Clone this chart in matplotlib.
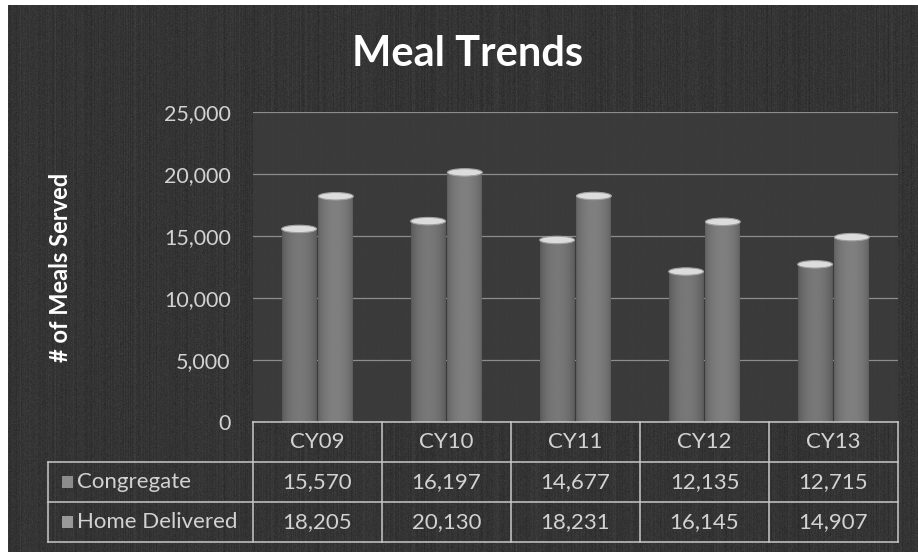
import numpy as np
import matplotlib.pyplot as plt
from matplotlib.patches import Ellipse, Rectangle
from matplotlib.lines import Line2D

years = ['CY09', 'CY10', 'CY11', 'CY12', 'CY13']
series_names = ['Congregate', 'Home Delivered']
congregate = [15570, 16197, 14677, 12135, 12715]
home_delivered = [18205, 20130, 18231, 16145, 14907]
yticks = [0, 5000, 10000, 15000, 20000, 25000]

BG = '#272727'
PLOT_BG = '#3c3c3c'
GRID = '#8c8c8c'
TEXT = '#d2d2d2'

plt.rcParams['font.family'] = ['Lato', 'DejaVu Sans']

fig = plt.figure(figsize=(9.18, 5.52), dpi=100, facecolor='white')
# dark slide panel, thin white margin top/left
fig.patches.append(Rectangle((8 / 918, 0), 1, 547 / 552, transform=fig.transFigure,
                             facecolor=BG, edgecolor='none', zorder=0))

# grainy texture over the panel
rng = np.random.default_rng(3)
grain = rng.normal(0, 1, (552, 918))
grain = grain + 0.8 * rng.normal(0, 1, (1, 918))
grain = (grain - grain.min()) / (grain.max() - grain.min())
tex = np.dstack([grain, grain, grain, np.full_like(grain, 0.16)])
tex[:5, :, 3] = 0
tex[:, :8, 3] = 0
fig.figimage(tex, 0, 0, zorder=1, origin='upper')

ax = fig.add_axes([253 / 918, 1 - 422 / 552, 645 / 918, 310 / 552])
ax.set_facecolor(PLOT_BG)
ax.patch.set_alpha(0.85)
ax.set_zorder(2)

x = np.arange(len(years))
w = 0.27
gap = 0.015
ymax = 25000

for vals, off, base in [(congregate, -(w / 2 + gap / 2), 0.42),
                        (home_delivered, w / 2 + gap / 2, 0.45)]:
    bars = ax.bar(x + off, vals, width=w, color=str(base), edgecolor='none', zorder=3)
    for b in bars:
        x0, h = b.get_x(), b.get_height()
        # cylinder shading across the bar
        t = np.linspace(0, 1, 64)
        shade = base - 0.08 + 0.13 * np.sin(np.pi * t) ** 0.6
        im = ax.imshow(shade[None, :], cmap='gray', vmin=0, vmax=1, aspect='auto',
                       extent=[x0, x0 + w, 0, h], zorder=3.5, interpolation='bilinear')
        im.set_clip_path(b)
        cap = Ellipse((x0 + w / 2, h), w, 600, facecolor='#dcdcdc', edgecolor='#a0a0a0',
                      lw=0.8, zorder=4)
        ax.add_patch(cap)

ax.set_xlim(-0.5, len(years) - 0.5)
ax.set_ylim(0, ymax)
ax.set_yticks(yticks)
ax.set_yticklabels([f'{v:,}' for v in yticks], color=TEXT, fontsize=15.5)
ax.tick_params(axis='y', length=0, pad=16)
ax.set_xticks([])
ax.grid(axis='y', color=GRID, lw=0.9, zorder=1)
ax.set_axisbelow(True)
for s in ax.spines.values():
    s.set_visible(False)
ax.set_ylabel('# of Meals Served', color='white', fontsize=17, fontweight='bold', labelpad=66)

fig.text(468 / 918, 1 - 54 / 552, 'Meal Trends', color='white', fontsize=30,
         fontweight='bold', ha='center', va='center')

# data table under the axis
row_h = 40 / 310
left = -205 / 645
lkw = dict(transform=ax.transAxes, color='#c8c8c8', lw=1.1, clip_on=False, zorder=5)
for k in range(4):
    xs = (0, 1) if k == 0 else (left, 1)
    ax.add_line(Line2D(xs, [-k * row_h] * 2, **lkw))
ax.add_line(Line2D([left, left], [-row_h, -3 * row_h], **lkw))
for i in range(len(years) + 1):
    ax.add_line(Line2D([i / 5] * 2, [0, -3 * row_h], **lkw))

tkw = dict(transform=ax.transAxes, color=TEXT, fontsize=16, va='center', clip_on=False)
for i, yr in enumerate(years):
    cx = (i + 0.5) / 5
    ax.text(cx, -0.5 * row_h, yr, ha='center', **tkw)
    ax.text(cx, -1.5 * row_h, f'{congregate[i]:,}', ha='center', **tkw)
    ax.text(cx, -2.5 * row_h, f'{home_delivered[i]:,}', ha='center', **tkw)

for r, (name, col) in enumerate(zip(series_names, ['0.55', '0.6'])):
    yc = -(1.5 + r) * row_h
    ax.add_patch(Rectangle((-191 / 645, yc - 0.02), 11 / 645, 0.04, transform=ax.transAxes,
                           facecolor=col, edgecolor='none', clip_on=False, zorder=5))
    ax.text(-176 / 645, yc, name, ha='left', **tkw)

fig.savefig('out.png', dpi=100, facecolor=fig.get_facecolor())
